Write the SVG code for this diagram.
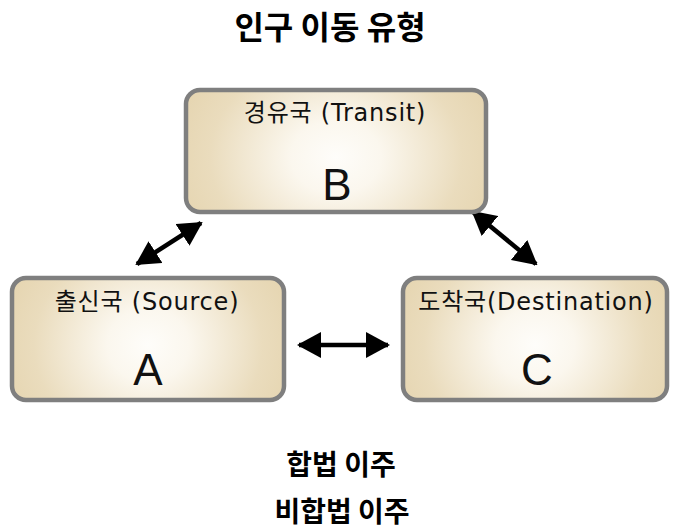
<svg xmlns="http://www.w3.org/2000/svg" width="673" height="530" viewBox="0 0 673 530">
  <style>
    .box { fill: url(#boxFill); stroke: #7f7f7f; stroke-width: 4.5; }
    .label { font-family: "DejaVu Sans", "Noto Sans CJK KR", sans-serif; font-size: 24px; letter-spacing: 0.8px; fill: #111; text-anchor: middle; }
    .letter { font-family: "Liberation Sans", "DejaVu Sans", sans-serif; font-size: 44px; fill: #111; text-anchor: middle; font-weight: 300; }
    .heading { font-family: "Noto Sans CJK KR", "Liberation Sans", sans-serif; font-weight: bold; fill: #000; text-anchor: middle; }
    .link { stroke: #000; stroke-width: 4.5; fill: none; marker-start: url(#head); marker-end: url(#head); }
  </style>
  <defs>
    <radialGradient id="boxFill" cx="0.5" cy="0.55" r="0.6" gradientTransform="translate(0.5 0.55) scale(1 2) translate(-0.5 -0.55)">
      <stop offset="0" stop-color="#fefdfa"/>
      <stop offset="0.25" stop-color="#fbf7ee"/>
      <stop offset="0.7" stop-color="#eadcbd"/>
      <stop offset="1" stop-color="#e4d3ad"/>
    </radialGradient>
    <marker id="head" viewBox="0 0 24 26" refX="22" refY="13" markerWidth="24" markerHeight="26" markerUnits="userSpaceOnUse" orient="auto-start-reverse">
      <path d="M0,0 L24,13 L0,26 Z" fill="#000"/>
    </marker>
  </defs>

  <text class="heading" x="330" y="39" font-size="32">인구 이동 유형</text>

  <g id="connectors">
    <line class="link" x1="137" y1="264" x2="201" y2="223"/>
    <line class="link" x1="473" y1="212" x2="536" y2="264"/>
    <line class="link" x1="299" y1="345" x2="388" y2="345"/>
  </g>

  <g id="node-b">
    <rect class="box" x="186" y="90" width="300" height="122" rx="14"/>
    <text class="label" x="335" y="121">경유국 (Transit)</text>
    <text class="letter" x="337" y="200">B</text>
  </g>

  <g id="node-a">
    <rect class="box" x="12" y="278" width="272" height="122" rx="14"/>
    <text class="label" x="147" y="310">출신국 (Source)</text>
    <text class="letter" x="148" y="385">A</text>
  </g>

  <g id="node-c">
    <rect class="box" x="403" y="278" width="264" height="122" rx="14"/>
    <text class="label" x="536" y="310">도착국(Destination)</text>
    <text class="letter" x="537" y="385">C</text>
  </g>

  <text class="heading" x="341" y="475" font-size="28">합법 이주</text>
  <text class="heading" x="342" y="522" font-size="28">비합법 이주</text>
</svg>
